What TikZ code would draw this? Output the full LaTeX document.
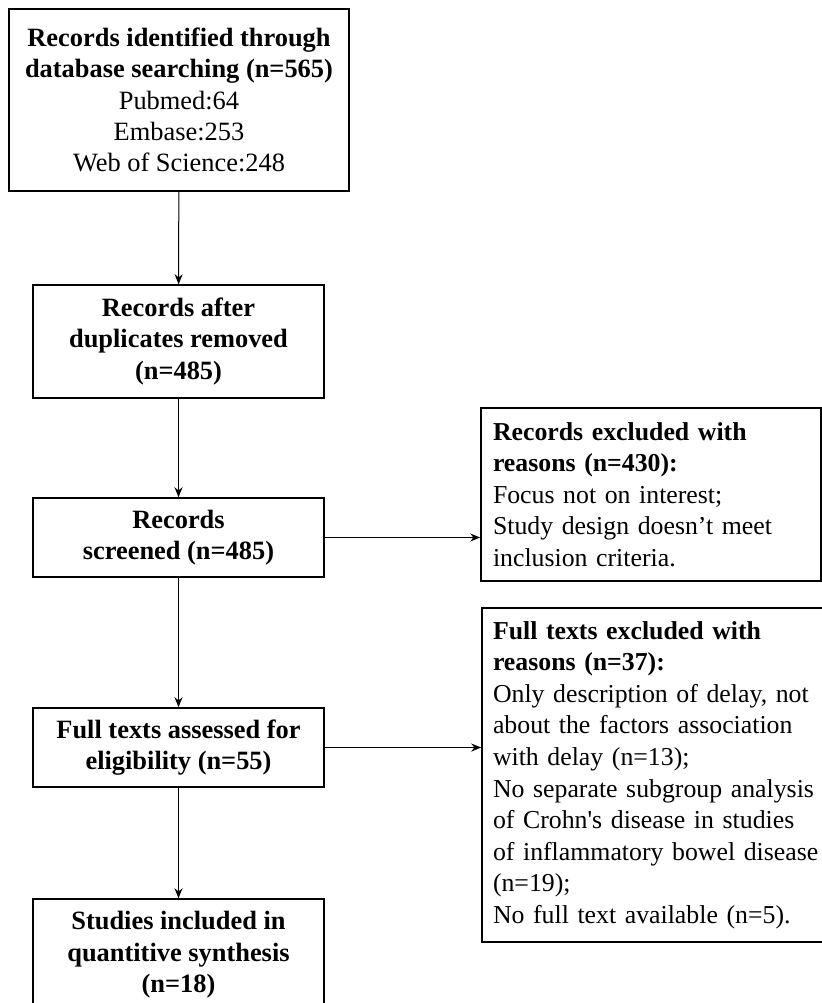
\documentclass[tikz,border=0pt]{standalone}
\usepackage{fontspec}
\setmainfont{Liberation Serif}
\usepackage{tikz}
\usetikzlibrary{arrows.meta}

\begin{document}
\begin{tikzpicture}[x=0.5pt,y=-0.5pt]
\useasboundingbox (0,0) rectangle (822,1003);
\begin{scope}[every node/.style={rectangle,draw,line width=0.8pt,inner sep=0pt,
              align=center,font=\fontsize{13.2}{15.7}\selectfont}]
    \node[minimum width=170pt,minimum height=91pt] (ID) at (179,100)
        {\textbf{Records identified through}\\\textbf{database searching (n=565)}\\Pubmed:64\\Embase:253\\Web of Science:248};
    \node[minimum width=145.5pt,minimum height=56.5pt] (DUP) at (178.5,341.5)
        {\textbf{Records after}\\\textbf{duplicates removed}\\\textbf{(n=485)}};
    \node[minimum width=145.5pt,minimum height=39.5pt] (SCR) at (178.5,537.5)
        {\textbf{Records}\\\textbf{screened (n=485)}};
    \node[minimum width=145.5pt,minimum height=39.5pt] (FT) at (178.5,747.5)
        {\textbf{Full texts assessed for}\\\textbf{eligibility (n=55)}};
    \node[minimum width=145.5pt,minimum height=56pt] (INC) at (178.5,955)
        {\textbf{Studies included in}\\\textbf{quantitive synthesis}\\\textbf{(n=18)}};
\end{scope}
\begin{scope}[every node/.style={rectangle,draw,line width=0.8pt,inner sep=0pt,
              align=left,font=\fontsize{12.9}{15.8}\selectfont}]
    \node[minimum width=170pt,minimum height=86.5pt,text width=158pt] (EXR) at (651,494.5)
        {\textbf{Records excluded with}\\\textbf{reasons (n=430):}\\Focus not on interest;\\Study design doesn’t meet\\inclusion criteria.};
    \node[minimum width=185pt,minimum height=167pt,text width=174pt] (EXF) at (667,775)
        {\textbf{Full texts excluded with}\\\textbf{reasons (n=37):}\\Only description of delay, not\\about the factors association\\with delay (n=13);\\No separate subgroup analysis\\of Crohn\textquotesingle s disease in studies\\of inflammatory bowel disease\\(n=19);\\No full text available (n=5).};
\end{scope}

\begin{scope}[>={Stealth[black,length=5pt,width=4pt]},
              every edge/.style={draw=black,line width=0.5pt}]
    \path [->] (ID) edge (DUP);
    \path [->] (DUP) edge (SCR);
    \path [->] (SCR) edge (FT);
    \path [->] (FT) edge (INC);
    \path [->] (SCR.east) edge (SCR.east -| EXR.west);
    \path [->] (FT.east) edge (FT.east -| EXF.west);
\end{scope}
\end{tikzpicture}
\end{document}
